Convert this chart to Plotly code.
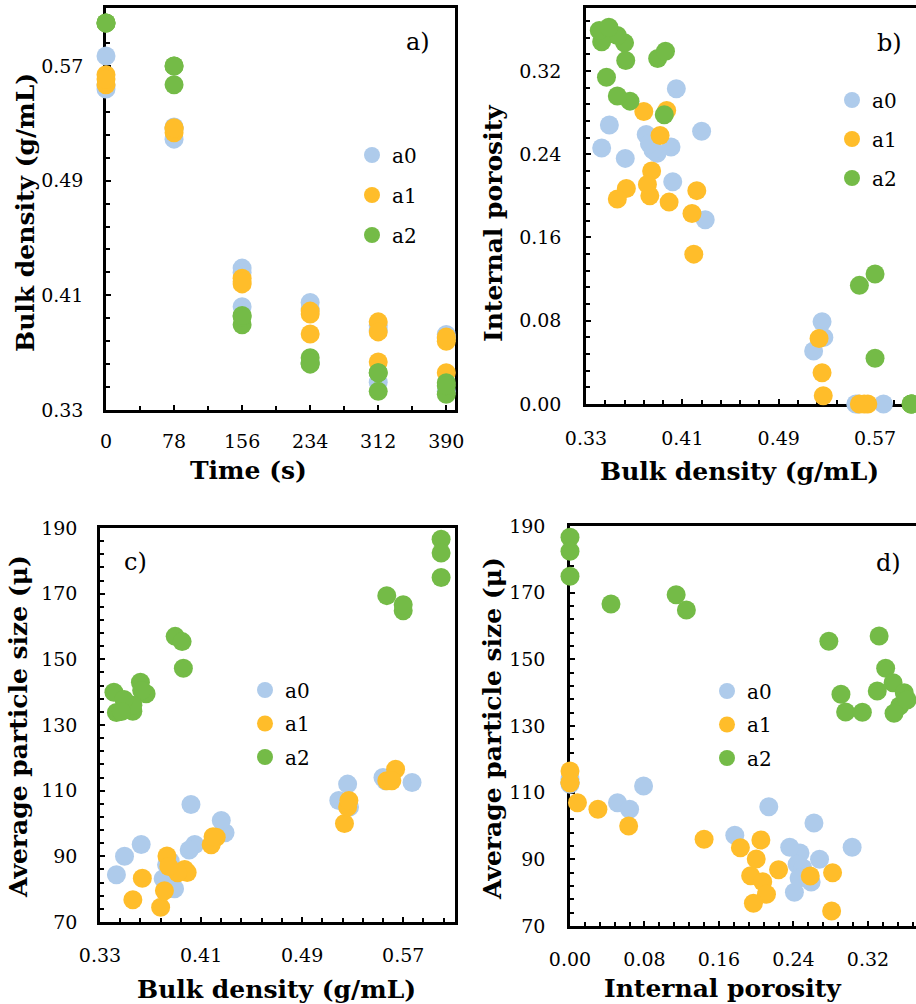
import plotly.graph_objects as go

W, H = 916, 1004

series_names = ["a0", "a1", "a2"]
series_colors = ["#AECBEB", "#FFBD2A", "#74BB47"]

# sampling time (s), 3 replicates per time
time_s = [0, 0, 0, 78, 78, 78, 156, 156, 156, 234, 234, 234, 312, 312, 312, 390, 390, 390]

# bulk density (g/mL)
bulk_a0 = [0.577, 0.554, 0.556, 0.519, 0.5275, 0.526, 0.429, 0.426, 0.402,
           0.405, 0.4006, 0.3626, 0.3494, 0.389, 0.3856, 0.380, 0.3827, 0.343]
bulk_a1 = [0.557, 0.564, 0.561, 0.5235, 0.526, 0.527, 0.422, 0.418, 0.4195,
           0.397, 0.399, 0.383, 0.3915, 0.3845, 0.3635, 0.378, 0.381, 0.356]
bulk_a2 = [0.600, 0.600, 0.600, 0.557, 0.570, 0.570, 0.3895, 0.395, 0.396,
           0.3665, 0.362, 0.363, 0.356, 0.356, 0.343, 0.341, 0.349, 0.347]

# internal porosity
poro_a0 = [0, 0, 0, 0.051, 0.064, 0.079, 0.177, 0.262, 0.2135,
           0.303, 0.247, 0.236, 0.268, 0.241, 0.244, 0.259, 0.250, 0.246]
poro_a1 = [0, 0, 0, 0.063, 0.030, 0.008, 0.205, 0.183, 0.144,
           0.282, 0.194, 0.200, 0.258, 0.224, 0.207, 0.281, 0.211, 0.197]
poro_a2 = [0, 0, 0, 0.114, 0.125, 0.044, 0.332, 0.278, 0.339,
           0.291, 0.347, 0.330, 0.296, 0.354, 0.348, 0.359, 0.362, 0.314]

# average particle size (micron)
size_a0 = [112.5, 114, 113, 107, 105, 112, 97.2, 100.9, 105.8,
           93.6, 91.9, 93.6, 90.0, 80.1, 88.5, 83.2, 87.4, 84.4]
size_a1 = [113, 116.5, 113, 100, 105, 107, 95.8, 93.5, 96,
           86, 85.1, 90.1, 85, 86.9, 83.3, 74.5, 79.5, 76.8]
size_a2 = [186.6, 182.4, 174.9, 169.4, 164.8, 166.6, 157, 155.4, 147.3,
           139.5, 143, 140.5, 134.2, 136, 133.8, 140, 137.8, 134.1]

bulk = [bulk_a0, bulk_a1, bulk_a2]
poro = [poro_a0, poro_a1, poro_a2]
size = [size_a0, size_a1, size_a2]

FONT = "DejaVu Serif"
MS = 19

fig = go.Figure()

panels = [
    ("x", "y", "legend", lambda i: time_s, lambda i: bulk[i]),
    ("x2", "y2", "legend2", lambda i: bulk[i], lambda i: poro[i]),
    ("x3", "y3", "legend3", lambda i: bulk[i], lambda i: size[i]),
    ("x4", "y4", "legend4", lambda i: poro[i], lambda i: size[i]),
]
for p, (xa, ya, lg, fx, fy) in enumerate(panels):
    for i, name in enumerate(series_names):
        fig.add_trace(go.Scatter(
            x=fx(i), y=fy(i), mode="markers", name=name,
            xaxis=xa, yaxis=ya, legend=lg, legendgroup=f"p{p}{name}",
            marker=dict(size=MS, color=series_colors[i], line=dict(width=0)),
            cliponaxis=False, hoverinfo="skip",
        ))


def px_x(v):
    return v / W


def px_y(v):
    return 1 - v / H


tickfont = dict(family=FONT, size=19, color="black")


def axis(anchor, domain, rng, tick0, dtick, minor_dtick, fmt=None, mirror=True, standoff=0):
    d = dict(
        anchor=anchor, domain=domain, range=rng, tickmode="linear", tick0=tick0, dtick=dtick,
        ticks="inside", ticklen=5, tickwidth=2, tickcolor="black",
        showline=True, linewidth=2.5, linecolor="black", mirror=mirror,
        showgrid=False, zeroline=False, layer="below traces", automargin=False,
        tickfont=tickfont, ticklabelstandoff=standoff,
        minor=dict(tick0=tick0, dtick=minor_dtick, ticks="inside", ticklen=4,
                   tickwidth=2, tickcolor="black", showgrid=False),
        fixedrange=True,
    )
    if fmt:
        d["tickformat"] = fmt
    return d


fig.update_layout(
    width=W, height=H, margin=dict(l=0, r=0, t=0, b=0, autoexpand=False),
    paper_bgcolor="white", plot_bgcolor="white",
    font=dict(family=FONT, color="black"),
    # panel a
    xaxis=axis("y", [px_x(106), px_x(455)], [0, 400], 0, 78, 39, standoff=12),
    yaxis=axis("x", [px_y(410), px_y(8)], [0.33, 0.6105], 0.33, 0.08, 0.016, ".2f", standoff=16),
    # panel b
    xaxis2=axis("y2", [px_x(586), 1.0], [0.33, 0.604], 0.33, 0.08, 0.016, ".2f", standoff=15),
    yaxis2=axis("x2", [px_y(404), px_y(8)], [0, 0.3805], 0, 0.08, 0.016, ".2f", mirror=False, standoff=18),
    # panel c
    xaxis3=axis("y3", [px_x(100), px_x(455)], [0.33, 0.611], 0.33, 0.08, 0.016, ".2f", standoff=14),
    yaxis3=axis("x3", [px_y(922), px_y(528)], [70, 190], 70, 20, 4, standoff=16),
    # panel d
    xaxis4=axis("y4", [px_x(570), 1.0], [0, 0.3716], 0, 0.08, 0.016, ".2f", standoff=14),
    yaxis4=axis("x4", [px_y(926), px_y(526)], [70, 190], 70, 20, 4, mirror=False, standoff=18),
)

legfont = dict(family=FONT, size=20, color="black")


def legend(x, top, gap):
    return dict(x=px_x(x), y=px_y(top), xanchor="left", yanchor="top",
                bgcolor="rgba(0,0,0,0)", borderwidth=0, font=legfont,
                traceorder="grouped", tracegroupgap=gap, itemclick=False,
                itemdoubleclick=False)


fig.update_layout(
    legend=legend(352, 135.5, 11),
    legend2=legend(832, 80.5, 10),
    legend3=legend(245, 670.5, 4.5),
    legend4=legend(707, 671.5, 4.5),
)

titlefont = dict(family=FONT, size=25, color="black", weight="bold")
ann = []


def title(text, x, y, vertical=False):
    ann.append(dict(text=text, x=px_x(x), y=px_y(y), xref="paper", yref="paper",
                    showarrow=False, xanchor="center", yanchor="middle",
                    textangle=-90 if vertical else 0, font=titlefont))


title("Time (s)", 248, 470)
title("Bulk density (g/mL)", 25, 213, True)
title("Bulk density (g/mL)", 739, 471)
title("Internal porosity", 493, 223, True)
title("Bulk density (g/mL)", 276, 989)
title("Average particle size (μ)", 18, 727, True)
title("Internal porosity", 723, 988)
title("Average particle size (μ)", 492, 729, True)

labfont = dict(family=FONT, size=24, color="black")
for t, x, y in [("a)", 418, 42), ("b)", 889, 43), ("c)", 135, 562), ("d)", 888, 563)]:
    ann.append(dict(text=t, x=px_x(x), y=px_y(y), xref="paper", yref="paper",
                    showarrow=False, xanchor="center", yanchor="middle", font=labfont))

fig.update_layout(annotations=ann)

fig.write_html("out.html", config={"displayModeBar": False})
